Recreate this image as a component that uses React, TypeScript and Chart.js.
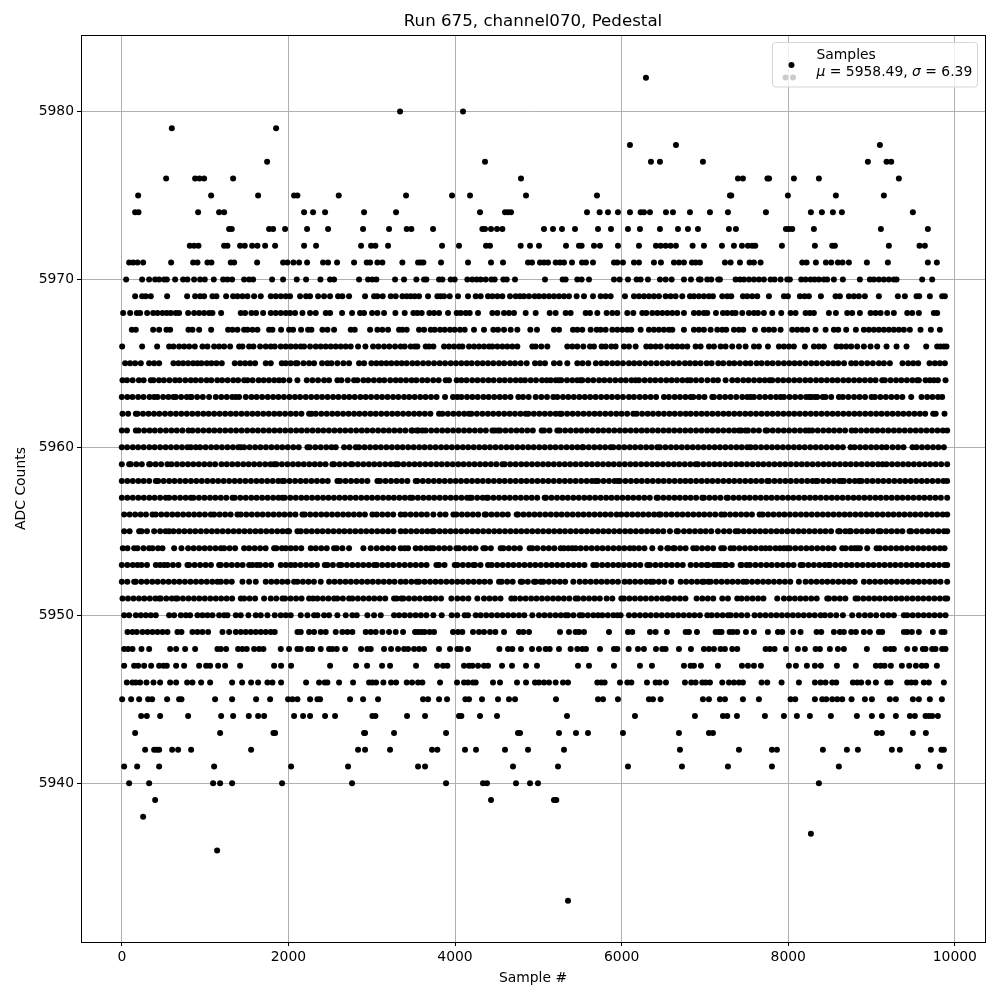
import React, { useEffect, useRef } from "react";
import { Chart, registerables } from "chart.js";

Chart.register(...registerables);

const xTickValues = [0, 2000, 4000, 6000, 8000, 10000];
const yTickValues = [5940, 5950, 5960, 5970, 5980];

const row5982 = [6292];
const row5980 = [3340, 4096];
const row5979 = [600, 1852];
const row5978 = [6100, 6652, 9100];
const row5977 = [1744, 4360, 6352, 6460, 6976, 8956, 9180, 9236];
const row5976 = [532, 880, 932, 988, 1336, 4792, 7396, 7456, 7750, 7770, 8068, 8368, 9328];
const row5975 = [196, 1072, 1636, 2068, 2108, 2604, 3412, 3964, 4180, 4852, 5704, 7300, 7316, 7996, 8572, 9148];
const row5974 = [160, 200, 916, 1168, 1228, 2188, 2296, 2440, 2908, 3292, 4300, 4600, 4636, 4672, 5584, 5736, 5836, 5956, 6100, 6228, 6268, 6340, 6532, 6616, 6820, 7060, 7276, 7732, 8272, 8404, 8536, 8644, 9496];
const row5973 = [1288, 1320, 1768, 1816, 1960, 2224, 2476, 2896, 3208, 3420, 3476, 3736, 4328, 4360, 4432, 4504, 4568, 5068, 5176, 5284, 5440, 5716, 5872, 6076, 6220, 6460, 6676, 6796, 6916, 7288, 7372, 7972, 8008, 8048, 8308, 9112, 9676];
const row5972 = [816, 868, 920, 1228, 1268, 1420, 1476, 1564, 1628, 1720, 1840, 2188, 2332, 2872, 2992, 3044, 3196, 3844, 4048, 4372, 4420, 4788, 4900, 5008, 5332, 5488, 5520, 5668, 5740, 5956, 6208, 6412, 6468, 6528, 6588, 6652, 6852, 6988, 7204, 7348, 7444, 7516, 7568, 7604, 7924, 8320, 8528, 8560, 9208, 9576, 9640];
const row5971 = [88, 136, 188, 256, 592, 856, 908, 1028, 1076, 1308, 1348, 1624, 1936, 1988, 2060, 2128, 2224, 2416, 2476, 2584, 2788, 2940, 2980, 3068, 3128, 3368, 3556, 3588, 3620, 3832, 4156, 4432, 4576, 4876, 4924, 5020, 5068, 5116, 5208, 5260, 5308, 5404, 5524, 5572, 5656, 5908, 5948, 6016, 6148, 6208, 6388, 6472, 6628, 6688, 6748, 6844, 6888, 6940, 7240, 7308, 7420, 7536, 7588, 7668, 8168, 8220, 8332, 8452, 8516, 8596, 8652, 8728, 8944, 9196, 9676, 9784];
const row5970 = [52, 244, 328, 400, 448, 508, 540, 640, 736, 788, 868, 940, 996, 1104, 1216, 1268, 1324, 1468, 1528, 1576, 1804, 1936, 2100, 2212, 2384, 2500, 2548, 2848, 2956, 3008, 3056, 3280, 3388, 3536, 3628, 3656, 3808, 3848, 3948, 3996, 4148, 4208, 4260, 4308, 4368, 4436, 4476, 4580, 4620, 4720, 5080, 5292, 5328, 5468, 5520, 5608, 5908, 5976, 6076, 6180, 6228, 6316, 6460, 6528, 6600, 6748, 6832, 6928, 6948, 7028, 7076, 7160, 7180, 7368, 7420, 7468, 7528, 7588, 7648, 7708, 7788, 7836, 7908, 7988, 8020, 8156, 8208, 8268, 8316, 8368, 8428, 8468, 8548, 8656, 8860, 8980, 9028, 9088, 9148, 9208, 9268, 9300, 9608, 9728];
const row5969 = [160, 244, 288, 348, 544, 784, 880, 940, 988, 1088, 1136, 1252, 1336, 1388, 1448, 1508, 1588, 1668, 1788, 1848, 1908, 1968, 2020, 2140, 2212, 2260, 2356, 2428, 2500, 2596, 2648, 2728, 2920, 3028, 3068, 3132, 3228, 3288, 3368, 3420, 3468, 3516, 3568, 3676, 3788, 3828, 3868, 3936, 4036, 4156, 4248, 4308, 4396, 4448, 4508, 4568, 4660, 4728, 4780, 4828, 4888, 4956, 5008, 5068, 5128, 5188, 5248, 5308, 5368, 5460, 5548, 5656, 5748, 5808, 5868, 6040, 6148, 6208, 6268, 6328, 6388, 6448, 6528, 6588, 6648, 6728, 6820, 6868, 6928, 6988, 7048, 7096, 7208, 7268, 7316, 7456, 7508, 7568, 7628, 7768, 7948, 7996, 8140, 8196, 8248, 8392, 8568, 8620, 8728, 8788, 8848, 8920, 9088, 9316, 9400, 9540, 9572, 9700, 9848, 9880];
const row5968 = [16, 100, 180, 220, 304, 376, 428, 488, 540, 588, 648, 688, 796, 868, 928, 988, 1048, 1088, 1192, 1428, 1480, 1556, 1612, 1696, 1788, 1848, 1908, 1968, 2020, 2080, 2168, 2260, 2328, 2448, 2500, 2644, 2764, 2860, 2908, 3004, 3068, 3148, 3284, 3396, 3500, 3548, 3600, 3692, 3748, 3808, 3916, 4020, 4068, 4128, 4176, 4276, 4448, 4508, 4588, 4648, 4708, 4848, 4968, 5136, 5208, 5328, 5388, 5568, 5620, 5708, 5820, 5888, 5948, 6068, 6140, 6248, 6296, 6368, 6428, 6488, 6548, 6608, 6668, 6748, 6868, 6928, 6988, 7028, 7132, 7216, 7268, 7328, 7368, 7448, 7528, 7588, 7636, 7708, 7808, 7916, 8028, 8088, 8208, 8260, 8308, 8488, 8572, 8708, 8768, 8860, 8988, 9048, 9108, 9188, 9268, 9428, 9488, 9568, 9748, 9788];
const row5967 = [120, 168, 376, 448, 536, 580, 800, 848, 928, 1072, 1276, 1328, 1388, 1468, 1508, 1568, 1628, 1768, 1808, 1912, 2008, 2056, 2152, 2236, 2276, 2408, 2468, 2548, 2748, 2796, 2980, 3068, 3128, 3196, 3328, 3368, 3420, 3568, 3628, 3708, 3756, 3820, 3876, 3940, 3996, 4060, 4116, 4228, 4348, 4460, 4516, 4588, 4668, 4748, 4904, 4984, 5188, 5248, 5416, 5468, 5528, 5628, 5700, 5748, 5808, 5888, 5948, 6008, 6068, 6116, 6228, 6328, 6388, 6448, 6508, 6568, 6608, 6748, 6868, 6928, 6988, 7068, 7148, 7208, 7256, 7348, 7408, 7460, 7600, 7708, 7768, 7828, 7908, 8048, 8108, 8168, 8228, 8328, 8448, 8548, 8600, 8696, 8812, 8908, 8968, 9028, 9088, 9148, 9208, 9268, 9328, 9388, 9460, 9588, 9712, 9820];
const row5966 = [4, 244, 424, 568, 620, 688, 748, 808, 876, 968, 1028, 1108, 1168, 1228, 1300, 1408, 1448, 1528, 1580, 1660, 1728, 1788, 1836, 1908, 1968, 2028, 2088, 2148, 2188, 2260, 2328, 2388, 2448, 2508, 2568, 2628, 2688, 2748, 2836, 2924, 3016, 3080, 3148, 3212, 3280, 3348, 3396, 3468, 3516, 3548, 3648, 3688, 3740, 3868, 3928, 3988, 4048, 4088, 4168, 4228, 4288, 4348, 4408, 4448, 4508, 4568, 4628, 4688, 4748, 4928, 4968, 5036, 5108, 5348, 5408, 5468, 5540, 5620, 5668, 5760, 5808, 5876, 5928, 6028, 6088, 6168, 6296, 6348, 6408, 6468, 6548, 6608, 6668, 6728, 6788, 6888, 6948, 7048, 7108, 7188, 7248, 7328, 7408, 7488, 7588, 7648, 7756, 7888, 7948, 8008, 8068, 8200, 8308, 8368, 8428, 8580, 8636, 8696, 8756, 8828, 8908, 8988, 9068, 9180, 9300, 9420, 9656, 9788, 9828, 9868, 9900];
const row5965 = [40, 100, 160, 228, 328, 388, 448, 620, 680, 736, 796, 856, 908, 956, 1020, 1076, 1136, 1200, 1356, 1420, 1480, 1540, 1600, 1728, 1788, 1920, 1968, 2028, 2088, 2108, 2180, 2248, 2308, 2404, 2468, 2516, 2588, 2660, 2728, 2848, 2908, 2996, 3056, 3116, 3176, 3236, 3300, 3360, 3420, 3488, 3548, 3616, 3680, 3748, 3816, 3880, 3948, 4012, 4076, 4140, 4200, 4268, 4332, 4396, 4460, 4528, 4590, 4660, 4720, 4788, 4860, 4960, 5020, 5080, 5188, 5256, 5348, 5468, 5530, 5600, 5690, 5756, 5820, 5888, 5950, 6016, 6088, 6150, 6216, 6284, 6352, 6420, 6488, 6552, 6620, 6688, 6760, 6820, 6884, 6948, 7020, 7080, 7160, 7220, 7292, 7352, 7420, 7488, 7548, 7620, 7680, 7748, 7812, 7880, 7948, 8012, 8076, 8140, 8208, 8276, 8340, 8408, 8476, 8540, 8600, 8670, 8756, 8812, 8880, 8948, 9016, 9088, 9148, 9220, 9372, 9440, 9500, 9560, 9696, 9760, 9820, 9880];
const row5964 = [8, 62, 130, 205, 262, 348, 380, 446, 505, 572, 640, 694, 762, 828, 886, 950, 1018, 1074, 1146, 1204, 1270, 1338, 1396, 1468, 1508, 1570, 1642, 1702, 1766, 1830, 1888, 1940, 2012, 2108, 2220, 2288, 2356, 2428, 2488, 2588, 2636, 2712, 2788, 2828, 2900, 2958, 3026, 3092, 3150, 3222, 3288, 3348, 3412, 3478, 3536, 3606, 3668, 3738, 3804, 3888, 3928, 4020, 4076, 4138, 4206, 4270, 4336, 4402, 4464, 4534, 4596, 4662, 4728, 4788, 4840, 4908, 4972, 5044, 5100, 5148, 5208, 5248, 5276, 5344, 5408, 5468, 5508, 5528, 5596, 5660, 5730, 5792, 5858, 5924, 5990, 6050, 6118, 6168, 6208, 6276, 6342, 6404, 6470, 6536, 6600, 6664, 6730, 6790, 6828, 6892, 6958, 7030, 7100, 7156, 7248, 7328, 7392, 7460, 7522, 7590, 7656, 7718, 7776, 7808, 7876, 7940, 8006, 8072, 8136, 8204, 8266, 8334, 8398, 8464, 8530, 8592, 8660, 8724, 8790, 8854, 8920, 8986, 9048, 9128, 9160, 9228, 9294, 9358, 9424, 9490, 9548, 9568, 9648, 9700, 9748, 9796, 9888];
const row5963 = [0, 66, 128, 196, 260, 332, 388, 428, 496, 560, 620, 648, 712, 780, 828, 836, 904, 972, 1048, 1128, 1194, 1260, 1326, 1368, 1408, 1488, 1556, 1618, 1684, 1752, 1816, 1880, 1946, 2012, 2078, 2140, 2208, 2274, 2340, 2404, 2470, 2536, 2600, 2668, 2730, 2796, 2864, 2928, 2992, 3060, 3124, 3190, 3256, 3320, 3388, 3450, 3516, 3582, 3646, 3712, 3778, 3880, 3976, 4028, 4076, 4144, 4208, 4272, 4340, 4404, 4470, 4536, 4600, 4666, 4760, 4816, 4884, 4968, 5036, 5104, 5180, 5228, 5296, 5360, 5426, 5492, 5558, 5622, 5688, 5754, 5820, 5884, 5950, 6016, 6088, 6148, 6216, 6282, 6348, 6414, 6508, 6568, 6636, 6700, 6766, 6828, 6860, 6928, 6994, 7088, 7108, 7176, 7242, 7308, 7376, 7448, 7508, 7548, 7588, 7656, 7722, 7788, 7854, 7908, 7948, 8016, 8082, 8148, 8214, 8252, 8280, 8320, 8348, 8414, 8448, 8516, 8608, 8656, 8722, 8790, 8856, 8922, 9000, 9040, 9106, 9172, 9238, 9304, 9370, 9476, 9600, 9668, 9732, 9798, 9848];
const row5962 = [8, 76, 168, 188, 254, 320, 386, 450, 518, 584, 650, 714, 780, 846, 912, 978, 1042, 1108, 1174, 1240, 1306, 1370, 1436, 1502, 1568, 1632, 1698, 1764, 1830, 1894, 1960, 2026, 2090, 2156, 2248, 2276, 2328, 2394, 2460, 2526, 2590, 2656, 2722, 2788, 2852, 2918, 2984, 3048, 3114, 3180, 3246, 3310, 3376, 3442, 3508, 3572, 3638, 3704, 3808, 3848, 3914, 3980, 4046, 4110, 4168, 4196, 4262, 4328, 4394, 4458, 4524, 4590, 4656, 4720, 4786, 4848, 4880, 4946, 5012, 5078, 5142, 5208, 5260, 5280, 5346, 5412, 5476, 5542, 5608, 5674, 5738, 5804, 5870, 5936, 6000, 6066, 6140, 6180, 6246, 6312, 6376, 6442, 6508, 6574, 6638, 6704, 6770, 6828, 6894, 6960, 7024, 7090, 7156, 7222, 7286, 7352, 7418, 7484, 7548, 7614, 7680, 7746, 7810, 7876, 7942, 8008, 8072, 8138, 8204, 8270, 8334, 8400, 8466, 8532, 8596, 8662, 8728, 8794, 8858, 8924, 8990, 9056, 9120, 9186, 9252, 9318, 9382, 9448, 9514, 9580, 9644, 9740, 9770, 9876];
const row5961 = [0, 62, 168, 200, 268, 334, 396, 462, 530, 596, 660, 728, 800, 848, 914, 980, 1046, 1110, 1176, 1242, 1308, 1372, 1438, 1504, 1570, 1634, 1700, 1766, 1832, 1896, 1962, 2028, 2094, 2158, 2224, 2290, 2356, 2420, 2486, 2552, 2618, 2682, 2748, 2814, 2880, 2944, 3010, 3076, 3142, 3206, 3272, 3338, 3404, 3476, 3488, 3540, 3560, 3608, 3648, 3714, 3780, 3846, 3910, 3976, 4042, 4108, 4172, 4238, 4304, 4370, 4448, 4476, 4516, 4540, 4606, 4672, 4738, 4802, 4868, 4934, 5040, 5068, 5134, 5228, 5256, 5322, 5388, 5454, 5518, 5584, 5650, 5716, 5780, 5846, 5912, 5978, 6042, 6108, 6174, 6240, 6304, 6370, 6436, 6502, 6566, 6632, 6698, 6764, 6828, 6894, 6960, 7026, 7090, 7156, 7222, 7288, 7352, 7408, 7436, 7488, 7516, 7582, 7648, 7728, 7748, 7814, 7880, 7946, 8010, 8076, 8142, 8208, 8248, 8288, 8354, 8420, 8486, 8550, 8616, 8682, 8760, 8808, 8874, 8940, 9006, 9070, 9136, 9202, 9268, 9332, 9398, 9464, 9530, 9594, 9660, 9726, 9792, 9856, 9908];
const row5960 = [0, 64, 132, 196, 262, 330, 394, 460, 526, 590, 656, 722, 788, 828, 888, 940, 1006, 1072, 1136, 1202, 1268, 1334, 1398, 1428, 1468, 1534, 1600, 1664, 1730, 1796, 1862, 1926, 1992, 2058, 2124, 2228, 2256, 2322, 2388, 2454, 2518, 2568, 2668, 2734, 2808, 2848, 2914, 2980, 3046, 3110, 3176, 3242, 3308, 3372, 3438, 3504, 3570, 3634, 3700, 3766, 3832, 3896, 3962, 4028, 4094, 4158, 4224, 4290, 4356, 4420, 4486, 4552, 4618, 4682, 4748, 4814, 4880, 4944, 5010, 5076, 5142, 5206, 5272, 5338, 5404, 5468, 5528, 5540, 5606, 5672, 5738, 5802, 5868, 5900, 5966, 6032, 6098, 6162, 6228, 6294, 6360, 6428, 6460, 6526, 6592, 6656, 6722, 6788, 6854, 6918, 6984, 7050, 7116, 7180, 7246, 7312, 7378, 7442, 7508, 7548, 7608, 7674, 7740, 7806, 7870, 7936, 8002, 8068, 8132, 8198, 8264, 8330, 8394, 8460, 8526, 8592, 8656, 8748, 8796, 8862, 8928, 8994, 9058, 9124, 9180, 9252, 9318, 9384, 9492, 9540, 9606, 9672, 9738, 9802, 9868];
const row5959 = [0, 88, 108, 174, 240, 328, 340, 406, 472, 548, 596, 662, 728, 794, 858, 924, 990, 1056, 1120, 1196, 1260, 1326, 1392, 1458, 1522, 1588, 1654, 1720, 1784, 1828, 1856, 1922, 1988, 2054, 2118, 2184, 2250, 2316, 2380, 2446, 2528, 2548, 2614, 2680, 2748, 2768, 2834, 2900, 2966, 3030, 3096, 3162, 3228, 3288, 3316, 3382, 3448, 3514, 3578, 3644, 3710, 3776, 3840, 3906, 3972, 4038, 4102, 4168, 4234, 4300, 4364, 4430, 4496, 4568, 4596, 4662, 4728, 4794, 4858, 4924, 4990, 5056, 5120, 5186, 5252, 5318, 5382, 5448, 5514, 5580, 5644, 5710, 5776, 5842, 5906, 5972, 6038, 6104, 6168, 6234, 6300, 6366, 6430, 6496, 6562, 6628, 6692, 6758, 6824, 6888, 6916, 6982, 7048, 7114, 7178, 7244, 7310, 7376, 7440, 7506, 7572, 7638, 7702, 7768, 7834, 7900, 7964, 8030, 8096, 8162, 8226, 8292, 8358, 8424, 8488, 8554, 8620, 8686, 8750, 8816, 8882, 8948, 9012, 9078, 9132, 9180, 9246, 9312, 9378, 9442, 9508, 9574, 9640, 9704, 9770, 9836, 9908];
const row5958 = [0, 66, 132, 198, 262, 328, 408, 436, 502, 568, 632, 698, 764, 830, 894, 960, 1026, 1092, 1156, 1222, 1288, 1354, 1418, 1484, 1550, 1616, 1680, 1746, 1812, 1878, 1928, 1948, 2014, 2080, 2146, 2210, 2276, 2342, 2408, 2472, 2588, 2620, 2686, 2752, 2818, 2882, 2948, 3068, 3100, 3166, 3232, 3298, 3362, 3428, 3528, 3548, 3614, 3680, 3746, 3810, 3876, 3942, 4008, 4072, 4138, 4204, 4270, 4334, 4400, 4466, 4532, 4596, 4662, 4728, 4794, 4858, 4924, 4990, 5056, 5120, 5186, 5252, 5318, 5382, 5448, 5514, 5580, 5644, 5688, 5716, 5782, 5848, 5914, 5956, 5980, 6046, 6112, 6178, 6242, 6308, 6374, 6440, 6504, 6570, 6636, 6702, 6766, 6828, 6894, 6960, 7026, 7090, 7156, 7222, 7288, 7352, 7418, 7484, 7550, 7614, 7680, 7748, 7768, 7834, 7900, 7966, 8030, 8096, 8162, 8228, 8292, 8336, 8352, 8418, 8484, 8550, 8614, 8648, 8668, 8734, 8800, 8852, 8880, 8946, 9012, 9078, 9142, 9208, 9274, 9340, 9404, 9470, 9536, 9602, 9666, 9732, 9798, 9864, 9908];
const row5957 = [0, 66, 132, 198, 264, 330, 394, 460, 528, 568, 634, 700, 766, 828, 860, 926, 992, 1058, 1122, 1188, 1254, 1328, 1356, 1422, 1488, 1554, 1618, 1684, 1750, 1816, 1880, 1928, 1956, 2022, 2088, 2154, 2218, 2284, 2350, 2416, 2480, 2546, 2612, 2678, 2742, 2808, 2874, 2940, 3004, 3070, 3136, 3202, 3266, 3332, 3398, 3460, 3488, 3554, 3620, 3686, 3750, 3816, 3882, 3948, 4012, 4078, 4144, 4176, 4200, 4266, 4332, 4380, 4396, 4462, 4528, 4594, 4658, 4724, 4790, 4856, 4920, 4986, 5076, 5092, 5158, 5224, 5290, 5354, 5420, 5486, 5552, 5616, 5682, 5748, 5814, 5878, 5944, 6010, 6076, 6140, 6206, 6272, 6338, 6420, 6436, 6502, 6568, 6634, 6698, 6764, 6828, 6894, 6968, 6988, 7054, 7120, 7186, 7260, 7276, 7342, 7408, 7474, 7538, 7604, 7670, 7736, 7800, 7866, 7932, 7998, 8062, 8128, 8194, 8260, 8324, 8390, 8456, 8522, 8586, 8652, 8718, 8784, 8848, 8914, 8980, 9046, 9110, 9176, 9242, 9308, 9372, 9438, 9504, 9570, 9634, 9700, 9766, 9832, 9908];
const row5956 = [28, 94, 160, 226, 290, 368, 408, 474, 540, 606, 670, 736, 802, 868, 932, 998, 1068, 1108, 1174, 1240, 1306, 1388, 1428, 1494, 1560, 1626, 1690, 1756, 1822, 1888, 1952, 2018, 2084, 2168, 2196, 2262, 2328, 2394, 2458, 2524, 2590, 2656, 2720, 2786, 2852, 2918, 3008, 3060, 3126, 3192, 3258, 3348, 3400, 3466, 3532, 3598, 3662, 3740, 3820, 3886, 3980, 4016, 4082, 4148, 4214, 4278, 4356, 4372, 4438, 4504, 4570, 4634, 4740, 4756, 4822, 4888, 4954, 5018, 5084, 5150, 5216, 5280, 5346, 5412, 5478, 5542, 5608, 5674, 5740, 5804, 5870, 5940, 5996, 6062, 6128, 6194, 6258, 6324, 6390, 6448, 6468, 6534, 6600, 6666, 6730, 6796, 6862, 6928, 6992, 7058, 7124, 7196, 7236, 7302, 7368, 7434, 7498, 7564, 7656, 7692, 7758, 7824, 7890, 7954, 8020, 8086, 8152, 8216, 8282, 8348, 8414, 8478, 8544, 8610, 8676, 8740, 8806, 8872, 8938, 9002, 9068, 9134, 9200, 9264, 9330, 9396, 9462, 9526, 9592, 9658, 9724, 9788, 9854, 9908];
const row5955 = [28, 94, 208, 236, 302, 388, 460, 526, 568, 620, 686, 752, 818, 882, 948, 1014, 1080, 1144, 1210, 1276, 1342, 1406, 1472, 1538, 1604, 1668, 1734, 1800, 1866, 1930, 1988, 2008, 2108, 2148, 2214, 2280, 2346, 2410, 2476, 2542, 2608, 2672, 2738, 2804, 2870, 2934, 3000, 3066, 3132, 3196, 3262, 3348, 3406, 3472, 3538, 3604, 3668, 3728, 3748, 3814, 3880, 3946, 4010, 4076, 4142, 4208, 4272, 4338, 4404, 4470, 4534, 4600, 4666, 4732, 4796, 4862, 4928, 4994, 5058, 5124, 5190, 5256, 5320, 5386, 5452, 5518, 5582, 5648, 5714, 5780, 5844, 5910, 5976, 6042, 6106, 6172, 6238, 6304, 6368, 6434, 6500, 6580, 6660, 6676, 6748, 6814, 6880, 6946, 7010, 7076, 7156, 7228, 7294, 7368, 7400, 7466, 7532, 7598, 7662, 7728, 7794, 7860, 7924, 7990, 8056, 8122, 8186, 8252, 8318, 8384, 8448, 8514, 8600, 8620, 8686, 8736, 8752, 8818, 8884, 8950, 9014, 9084, 9108, 9174, 9240, 9306, 9370, 9456, 9476, 9542, 9608, 9674, 9738, 9804, 9870, 9908];
const row5954 = [12, 68, 148, 188, 260, 328, 368, 434, 488, 628, 716, 796, 862, 928, 994, 1058, 1124, 1188, 1228, 1294, 1360, 1468, 1528, 1594, 1660, 1726, 1828, 1856, 1922, 1968, 2028, 2088, 2154, 2268, 2328, 2394, 2460, 2548, 2580, 2648, 2728, 2900, 2988, 3060, 3128, 3194, 3260, 3348, 3396, 3436, 3528, 3588, 3654, 3708, 3740, 3806, 3872, 3938, 4016, 4048, 4114, 4180, 4246, 4340, 4364, 4430, 4548, 4580, 4646, 4712, 4778, 4896, 4928, 4988, 5060, 5126, 5192, 5268, 5308, 5360, 5408, 5448, 5508, 5574, 5640, 5706, 5770, 5836, 5902, 5968, 6032, 6098, 6148, 6208, 6274, 6368, 6468, 6548, 6560, 6620, 6636, 6702, 6768, 6860, 6900, 6966, 7032, 7098, 7196, 7228, 7308, 7348, 7414, 7480, 7546, 7610, 7676, 7728, 7780, 7846, 7900, 7948, 7988, 8020, 8086, 8152, 8218, 8282, 8348, 8414, 8480, 8544, 8648, 8688, 8754, 8796, 8828, 8860, 8948, 9060, 9100, 9166, 9232, 9298, 9362, 9428, 9494, 9560, 9624, 9690, 9756, 9822, 9876];
const row5953 = [0, 66, 132, 188, 236, 302, 408, 460, 508, 548, 614, 680, 788, 808, 874, 940, 1006, 1070, 1168, 1188, 1254, 1320, 1386, 1450, 1528, 1568, 1620, 1660, 1726, 1792, 1908, 1968, 2028, 2080, 2146, 2212, 2278, 2342, 2436, 2468, 2534, 2608, 2636, 2702, 2768, 2834, 2898, 2964, 3028, 3060, 3126, 3192, 3258, 3328, 3396, 3462, 3528, 3594, 3658, 3776, 3808, 3874, 3996, 4028, 4094, 4160, 4220, 4240, 4306, 4396, 4440, 4506, 4572, 4638, 4702, 4768, 4834, 4900, 4964, 5030, 5096, 5162, 5226, 5292, 5358, 5424, 5488, 5554, 5660, 5700, 5766, 5832, 5898, 5962, 6028, 6094, 6160, 6224, 6308, 6340, 6406, 6472, 6538, 6602, 6668, 6734, 6828, 6894, 6960, 7020, 7040, 7106, 7148, 7180, 7236, 7256, 7322, 7428, 7440, 7500, 7540, 7606, 7672, 7738, 7802, 7868, 7934, 8000, 8064, 8148, 8176, 8242, 8308, 8374, 8438, 8488, 8500, 8566, 8632, 8698, 8762, 8828, 8894, 8960, 9024, 9090, 9156, 9222, 9286, 9352, 9418, 9484, 9548, 9614, 9680, 9746, 9810, 9876, 9908];
const row5952 = [0, 66, 148, 168, 234, 300, 366, 430, 496, 562, 628, 692, 758, 824, 890, 954, 1020, 1086, 1148, 1188, 1254, 1320, 1448, 1528, 1608, 1728, 1794, 1860, 1926, 1990, 2068, 2108, 2174, 2240, 2306, 2388, 2488, 2554, 2620, 2686, 2750, 2816, 2882, 2948, 3012, 3078, 3144, 3210, 3274, 3348, 3408, 3476, 3540, 3568, 3634, 3700, 3766, 3830, 3896, 3962, 4028, 4092, 4158, 4224, 4290, 4354, 4420, 4528, 4560, 4626, 4692, 4788, 4808, 4874, 4948, 4968, 5028, 5060, 5126, 5192, 5258, 5322, 5420, 5496, 5562, 5628, 5694, 5758, 5824, 5890, 5956, 6036, 6096, 6162, 6228, 6294, 6348, 6380, 6446, 6512, 6596, 6708, 6774, 6840, 6906, 6968, 6988, 7040, 7068, 7134, 7200, 7266, 7330, 7396, 7460, 7500, 7566, 7632, 7698, 7762, 7828, 7894, 7960, 8024, 8128, 8208, 8274, 8340, 8406, 8470, 8536, 8602, 8668, 8732, 8798, 8908, 8976, 9042, 9108, 9174, 9238, 9304, 9370, 9436, 9500, 9566, 9632, 9698, 9762, 9828, 9908];
const row5951 = [8, 74, 140, 206, 270, 336, 402, 448, 468, 534, 600, 648, 668, 734, 800, 866, 930, 996, 1062, 1128, 1192, 1258, 1324, 1428, 1468, 1534, 1600, 1708, 1788, 1854, 1928, 1960, 2026, 2092, 2158, 2248, 2296, 2348, 2414, 2480, 2548, 2588, 2654, 2728, 2768, 2834, 2900, 2966, 3030, 3096, 3162, 3268, 3300, 3356, 3380, 3446, 3512, 3578, 3648, 3700, 3766, 3832, 3956, 4028, 4094, 4160, 4268, 4348, 4414, 4480, 4546, 4676, 4716, 4782, 4848, 4914, 4978, 5044, 5110, 5176, 5240, 5306, 5372, 5448, 5476, 5542, 5608, 5674, 5738, 5820, 5888, 5996, 6028, 6094, 6160, 6226, 6290, 6356, 6422, 6488, 6548, 6568, 6634, 6700, 6766, 6900, 6968, 7034, 7100, 7208, 7276, 7388, 7440, 7506, 7572, 7638, 7702, 7868, 7948, 8014, 8080, 8146, 8210, 8276, 8342, 8468, 8488, 8554, 8620, 8686, 8808, 8836, 8902, 8968, 9034, 9098, 9164, 9230, 9296, 9360, 9426, 9492, 9558, 9622, 9688, 9754, 9820, 9884, 9908];
const row5950 = [28, 88, 168, 228, 288, 348, 408, 568, 628, 708, 768, 820, 908, 968, 1028, 1088, 1168, 1228, 1268, 1368, 1428, 1520, 1608, 1668, 1748, 1836, 1908, 1968, 2028, 2148, 2228, 2308, 2348, 2428, 2488, 2588, 2688, 2768, 2820, 2948, 3028, 3108, 3268, 3328, 3394, 3460, 3526, 3590, 3656, 3740, 3840, 3960, 4026, 4116, 4156, 4248, 4308, 4374, 4440, 4506, 4570, 4636, 4702, 4768, 4832, 4928, 5008, 5074, 5140, 5206, 5270, 5328, 5356, 5422, 5496, 5528, 5594, 5660, 5716, 5768, 5834, 5900, 5948, 5988, 6088, 6154, 6220, 6286, 6350, 6416, 6482, 6548, 6612, 6678, 6744, 6810, 6874, 6940, 7028, 7080, 7146, 7212, 7276, 7308, 7374, 7440, 7508, 7596, 7662, 7728, 7794, 7858, 7924, 7990, 8056, 8120, 8186, 8252, 8318, 8388, 8440, 8506, 8576, 8656, 8768, 8848, 8920, 8986, 9056, 9136, 9202, 9268, 9388, 9428, 9494, 9560, 9626, 9690, 9756, 9822, 9888];
const row5949 = [68, 128, 180, 248, 308, 368, 428, 488, 548, 668, 716, 848, 908, 968, 1036, 1208, 1288, 1368, 1428, 1488, 1548, 1608, 1668, 1728, 1788, 1836, 2108, 2148, 2248, 2308, 2388, 2448, 2568, 2648, 2708, 2768, 2928, 2988, 3048, 3128, 3208, 3288, 3376, 3520, 3556, 3596, 3636, 3696, 3748, 3976, 4036, 4088, 4216, 4288, 4348, 4420, 4484, 4588, 4768, 4820, 4888, 5260, 5368, 5448, 5488, 5548, 5848, 6076, 6128, 6340, 6408, 6544, 6768, 6808, 6904, 7128, 7168, 7200, 7296, 7336, 7388, 7492, 7588, 7756, 7876, 7928, 8060, 8148, 8340, 8396, 8548, 8620, 8668, 8756, 8812, 8908, 8980, 9088, 9128, 9388, 9428, 9484, 9568, 9736, 9840, 9876];
const row5948 = [28, 76, 128, 236, 328, 580, 652, 760, 880, 1148, 1188, 1252, 1396, 1448, 1500, 1588, 1648, 1700, 1908, 2008, 2108, 2148, 2236, 2284, 2388, 2488, 2528, 2580, 2680, 2872, 2948, 2988, 3148, 3232, 3316, 3388, 3436, 3508, 3568, 3628, 3808, 3940, 4028, 4068, 4156, 4532, 4636, 4688, 4792, 4924, 5008, 5088, 5136, 5248, 5388, 5468, 5528, 5572, 5740, 5908, 5948, 6084, 6196, 6268, 6412, 6488, 6528, 6688, 6832, 6988, 7048, 7108, 7188, 7240, 7328, 7388, 7728, 7780, 7836, 7972, 8116, 8200, 8328, 8380, 8500, 8596, 8668, 8944, 9168, 9228, 9268, 9428, 9520, 9616, 9648, 9728, 9768, 9848, 9888];
const row5947 = [28, 148, 196, 268, 352, 448, 500, 540, 652, 748, 928, 1012, 1060, 1156, 1240, 1420, 1828, 1912, 2032, 2500, 2812, 2944, 3124, 3220, 3532, 3784, 3856, 3908, 4108, 4168, 4208, 4276, 4348, 4396, 4564, 4684, 4852, 4984, 5476, 5608, 5908, 6220, 6364, 6748, 6828, 6868, 6952, 7156, 7444, 7516, 7588, 7672, 8008, 8092, 8224, 8320, 8392, 8584, 8812, 9052, 9108, 9156, 9232, 9364, 9452, 9532, 9604, 9656, 9784];
const row5946 = [60, 128, 168, 220, 296, 380, 460, 580, 652, 784, 848, 952, 1060, 1324, 1444, 1552, 1636, 1748, 1808, 1912, 2212, 2368, 2436, 2468, 2608, 2776, 2968, 3008, 3052, 3140, 3232, 3292, 3420, 3484, 3556, 3608, 3820, 4024, 4108, 4156, 4216, 4248, 4456, 4540, 4744, 4852, 4960, 5008, 5068, 5128, 5208, 5296, 5356, 5708, 5756, 5796, 5980, 6068, 6116, 6304, 6408, 6456, 6532, 6760, 6836, 6888, 6968, 7008, 7060, 7208, 7288, 7348, 7408, 7456, 7680, 7748, 7920, 8128, 8320, 8388, 8448, 8528, 8576, 8776, 8828, 8876, 8960, 9052, 9188, 9228, 9428, 9476, 9528, 9628, 9688, 9868];
const row5945 = [4, 112, 208, 316, 364, 544, 688, 716, 1120, 1324, 1612, 1780, 1996, 2048, 2108, 2260, 2348, 2380, 2740, 2896, 3076, 3616, 3676, 3808, 3904, 4124, 4168, 4324, 4516, 4648, 4720, 5212, 5716, 5776, 5956, 6328, 6376, 6468, 6976, 7048, 7180, 7240, 7456, 7648, 8028, 8084, 8320, 8408, 8456, 8528, 8588, 8648, 8760, 8920, 9004, 9220, 9292, 9496, 9568, 9700, 9844];
const row5944 = [232, 300, 460, 796, 1192, 1336, 1524, 1636, 1708, 2068, 2176, 2260, 2440, 2560, 3008, 3044, 3424, 3640, 4048, 4076, 4300, 4504, 5344, 6160, 6880, 7216, 7268, 7384, 7720, 7948, 8104, 8260, 8512, 8824, 9004, 9124, 9292, 9460, 9520, 9648, 9688, 9728, 9796];
const row5943 = [160, 1180, 1820, 1840, 2908, 2920, 3268, 3892, 4756, 4780, 5248, 5452, 5596, 6016, 6688, 7048, 7096, 9064, 9124, 9496, 9652];
const row5942 = [280, 388, 420, 448, 604, 676, 832, 1552, 2836, 2920, 3220, 3724, 3788, 4120, 4252, 4600, 4876, 5308, 6700, 7408, 7804, 7864, 8416, 8704, 8836, 9244, 9340, 9712, 9840, 9868];
const row5941 = [28, 184, 448, 1108, 2032, 2716, 3556, 3640, 4696, 5236, 6076, 6724, 7276, 7804, 8608, 9556, 9820];
const row5940 = [88, 328, 1096, 1180, 1324, 1924, 2764, 3892, 4336, 4384, 4732, 4900, 4996, 8368];
const row5939 = [400, 4432, 5188, 5216];
const row5938 = [256];
const row5937 = [8272];
const row5936 = [1144];
const row5933 = [5356];

const levels: [number, number[]][] = [
  [5982, row5982], [5980, row5980], [5979, row5979], [5978, row5978], [5977, row5977], [5976, row5976],
  [5975, row5975], [5974, row5974], [5973, row5973], [5972, row5972], [5971, row5971], [5970, row5970],
  [5969, row5969], [5968, row5968], [5967, row5967], [5966, row5966], [5965, row5965], [5964, row5964],
  [5963, row5963], [5962, row5962], [5961, row5961], [5960, row5960], [5959, row5959], [5958, row5958],
  [5957, row5957], [5956, row5956], [5955, row5955], [5954, row5954], [5953, row5953], [5952, row5952],
  [5951, row5951], [5950, row5950], [5949, row5949], [5948, row5948], [5947, row5947], [5946, row5946],
  [5945, row5945], [5944, row5944], [5943, row5943], [5942, row5942], [5941, row5941], [5940, row5940],
  [5939, row5939], [5938, row5938], [5937, row5937], [5936, row5936], [5933, row5933],
];

const title = "Run 675, channel070, Pedestal";
const xLabel = "Sample #";
const yLabel = "ADC Counts";
const legendName = "Samples";
const FONT = '"DejaVu Sans"';

const framePlugin = {
  id: "frameAndLegend",
  afterDatasetsDraw(chart: any) {
    const { ctx, chartArea: a } = chart;
    ctx.save();
    ctx.strokeStyle = "#000";
    ctx.lineWidth = 1;
    ctx.strokeRect(a.left + 0.5, a.top + 0.5, a.right - a.left, a.bottom - a.top);
    const bx = 772.5, by = 42.5, bw = 205, bh = 44.5;
    ctx.beginPath();
    ctx.roundRect(bx, by, bw, bh, 3);
    ctx.fillStyle = "rgba(255,255,255,0.8)";
    ctx.fill();
    ctx.strokeStyle = "rgba(204,204,204,0.8)";
    ctx.stroke();
    ctx.fillStyle = "#000";
    ctx.beginPath();
    ctx.arc(791.5, 65, 3, 0, Math.PI * 2);
    ctx.fill();
    ctx.fillStyle = "#ccc";
    for (const cx of [785.5, 793]) {
      ctx.beginPath();
      ctx.arc(cx, 77.5, 3, 0, Math.PI * 2);
      ctx.fill();
    }
    ctx.fillStyle = "#000";
    ctx.textBaseline = "alphabetic";
    ctx.textAlign = "left";
    ctx.font = `13.9px ${FONT}`;
    ctx.fillText(legendName, 816.5, 59);
    const parts: [string, boolean][] = [
      ["μ", true], [" = 5958.49, ", false], ["σ", true], [" = 6.39", false],
    ];
    let x = 816.5;
    for (const [text, italic] of parts) {
      ctx.font = `${italic ? "italic " : ""}13.9px ${FONT}`;
      ctx.fillText(text, x, 76);
      x += ctx.measureText(text).width;
    }
    ctx.restore();
  },
};

export default function App() {
  const ref = useRef<HTMLCanvasElement>(null);
  useEffect(() => {
    const data: { x: number; y: number }[] = [];
    for (const [level, xs] of levels) for (const x of xs) data.push({ x, y: level });
    const tickFont = { family: FONT, size: 13.9 };
    const grid = {
      color: "#b0b0b0",
      lineWidth: 1,
      tickColor: "#000",
      tickLength: 4,
      drawTicks: true,
    };
    const chart = new Chart(ref.current as HTMLCanvasElement, {
      type: "scatter",
      data: {
        datasets: [
          { label: legendName, data, pointRadius: 3, pointHoverRadius: 3, pointBackgroundColor: "#000", pointBorderWidth: 0 },
        ],
      },
      plugins: [framePlugin],
      options: {
        animation: false,
        responsive: false,
        parsing: false,
        normalized: false,
        layout: { padding: { left: 0, right: 15, top: 0, bottom: 0 } },
        plugins: {
          legend: { display: false },
          tooltip: { enabled: false },
          title: {
            display: true,
            text: title,
            fullSize: false,
            color: "#000",
            font: { family: FONT, size: 16.67, weight: "normal", lineHeight: 1.2 },
            padding: { top: 12, bottom: 3 },
          },
        },
        scales: {
          x: {
            type: "linear",
            min: -490,
            max: 10362,
            grid,
            border: { color: "#000", width: 1 },
            afterFit: (s: any) => { s.height = 58; },
            afterBuildTicks: (s: any) => { s.ticks = xTickValues.map((value) => ({ value })); },
            ticks: { autoSkip: false, color: "#000", font: tickFont, maxRotation: 0, padding: 3, callback: (v: any) => String(v) },
            title: { display: true, text: xLabel, color: "#000", font: tickFont, padding: { top: 0, bottom: 13 } },
          },
          y: {
            type: "linear",
            min: 5930.55,
            max: 5984.55,
            grid,
            border: { color: "#000", width: 1 },
            afterFit: (s: any) => { s.width = 81; },
            afterBuildTicks: (s: any) => { s.ticks = yTickValues.map((value) => ({ value })); },
            ticks: { autoSkip: false, color: "#000", font: tickFont, padding: 3, callback: (v: any) => String(v) },
            title: { display: true, text: yLabel, color: "#000", font: tickFont, padding: { top: 13, bottom: 0 } },
          },
        },
      } as any,
    });
    return () => chart.destroy();
  }, []);
  return (
    <div style={{ position: "absolute", left: 0, top: 0, width: 1000, height: 1000, background: "#fff" }}>
      <canvas ref={ref} width={1000} height={1000} style={{ display: "block" }} />
    </div>
  );
}
